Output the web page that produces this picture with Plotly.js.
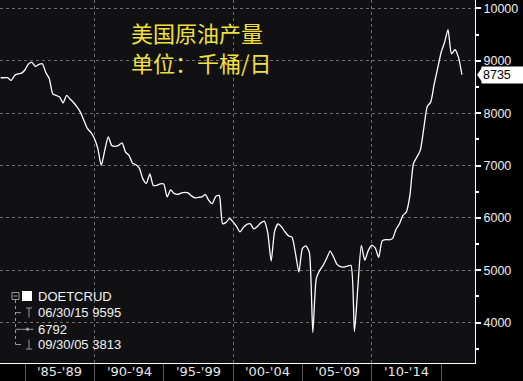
<!DOCTYPE html>
<html><head><meta charset="utf-8">
<script src="https://cdn.plot.ly/plotly-3.0.1.min.js"></script>
<style>html,body{margin:0;padding:0;background:#000;}#chart{width:523px;height:381px;}</style>
</head><body><div id="chart"></div>
<script>
// ---- data (quarterly, thousand barrels per day) ----
const startYear = 1983;
const quarterEnds = ['03-31', '06-30', '09-30', '12-31'];
const production = [
  8676, 8676, 8676, 8624,
  8720, 8748, 8763, 8828,
  8940, 8968, 8891, 8929,
  8943, 8777, 8662, 8367,
  8338, 8309, 8195, 8338,
  8271, 8204, 8118, 8014,
  7861, 7708, 7632, 7517,
  7327, 7002, 7289, 7546,
  7384, 7365, 7384, 7432,
  7256, 7193, 7046, 7016,
  6945, 6745, 6659, 6840,
  6621, 6621, 6649, 6649,
  6401, 6535, 6468, 6449,
  6474, 6487, 6478, 6420,
  6382, 6392, 6401, 6443,
  6335, 6271, 6411, 6430,
  5890, 5915, 5991, 5924,
  5838, 5733, 5819, 5876,
  5886, 5790, 5838, 5905,
  5940, 5724, 5176, 5753,
  5886, 5829, 5733, 5657,
  5634, 5323, 4967, 5419,
  5466, 5342, 3813, 4846,
  4999, 5094, 5228, 5367,
  5253, 5113, 5069, 5062,
  5081, 5094, 3830, 4700,
  5476, 5190, 5381, 5476,
  5428, 5247, 5562, 5586,
  5581, 5604, 5781, 5890,
  6048, 6115, 6430, 7035,
  7161, 7289, 7708, 8128,
  8210, 8548, 8853, 9158,
  9349, 9595, 9134, 9210,
  9069, 8735
];
const dates = production.map((v, i) => (startYear + Math.floor(i / 4)) + '-' + quarterEnds[i % 4]);

const periodStarts = [1985, 1990, 1995, 2000, 2005, 2010];
const periodLabels = ["'85-'89", "'90-'94", "'95-'99", "'00-'04", "'05-'09", "'10-'14"];
const dividerYears = [1985, 1995, 2005, 2015];
const gridYears = [1990, 2000, 2010];
const yTicks = [4000, 5000, 6000, 7000, 8000, 9000, 10000];
const titleLines = ['美国原油产量', '单位：千桶/日'];
const seriesName = 'DOETCRUD';
const highDate = '06/30/15', highValue = 9595;
const avgValue = 6792;
const lowDate = '09/30/05', lowValue = 3813;

// ---- layout helpers ----
const PW = 475, PH = 363;
const YMIN = 3230, YMAX = 10160;
const px = x => x / PW;
const py = y => (PH - y) / PH;
const unitsPerPx = (YMAX - YMIN) / PH;
const lastValue = production[production.length - 1];

const trace = {
  x: dates, y: production, type: 'scatter', mode: 'lines',
  line: {color: '#ffffff', width: 1.3, shape: 'spline', smoothing: 0.6},
  hoverinfo: 'skip', showlegend: false
};

const annotations = [];
periodStarts.forEach((s, i) => {
  annotations.push({
    x: (s + 2) + '-07-01', xref: 'x', y: py(372), yref: 'paper',
    yanchor: 'middle', xanchor: 'center', showarrow: false, text: periodLabels[i],
    font: {family: 'DejaVu Sans', size: 13, color: '#e6e6e6'}
  });
});
const titleY = [32, 62];
titleLines.forEach((t, i) => {
  annotations.push({
    x: px(129), xref: 'paper', y: py(titleY[i]), yref: 'paper', xanchor: 'left', yanchor: 'middle',
    showarrow: false, text: t, font: {family: 'Noto Sans CJK SC', size: 22, color: '#f0e040'}
  });
});
const legendRows = [
  [296, seriesName],
  [312.7, highDate + ' ' + highValue],
  [329.3, String(avgValue)],
  [344.5, lowDate + ' ' + lowValue]
];
legendRows.forEach(r => {
  annotations.push({
    x: px(35.5), xref: 'paper', y: py(r[0]), yref: 'paper', xanchor: 'left', yanchor: 'middle',
    showarrow: false, text: r[1], font: {family: 'Liberation Sans', size: 13, color: '#f2f2f2'}
  });
});
annotations.push({
  x: px(481), xref: 'paper', y: lastValue, yref: 'y', xanchor: 'left', yanchor: 'middle',
  text: String(lastValue), showarrow: false,
  bgcolor: '#ffffff', borderpad: 1, width: 44, align: 'left',
  font: {family: 'Liberation Sans', size: 12.5, color: '#000000'}
});

const gc = '#9a9a9a';
const shapes = [
  // last value pointer
  {type: 'path', xref: 'paper', yref: 'y',
   path: 'M ' + px(477) + ' ' + lastValue + ' L ' + px(482) + ' ' + (lastValue + 7 * unitsPerPx) +
         ' L ' + px(482) + ' ' + (lastValue - 7 * unitsPerPx) + ' Z',
   fillcolor: '#ffffff', line: {width: 0}},
  // tree connector
  {type: 'line', xref: 'paper', yref: 'paper', x0: px(15.5), x1: px(15.5), y0: py(300), y1: py(344.5), line: {color: gc, width: 1, dash: 'dot'}},
  {type: 'line', xref: 'paper', yref: 'paper', x0: px(15.5), x1: px(21), y0: py(312.7), y1: py(312.7), line: {color: gc, width: 1}},
  {type: 'line', xref: 'paper', yref: 'paper', x0: px(15.5), x1: px(21), y0: py(329.3), y1: py(329.3), line: {color: gc, width: 1}},
  {type: 'line', xref: 'paper', yref: 'paper', x0: px(15.5), x1: px(21), y0: py(344.5), y1: py(344.5), line: {color: gc, width: 1}},
  // collapse box
  {type: 'rect', xref: 'paper', yref: 'paper', x0: px(12), x1: px(19), y0: py(292.5), y1: py(299.5), line: {color: gc, width: 1}},
  {type: 'line', xref: 'paper', yref: 'paper', x0: px(13.5), x1: px(17.5), y0: py(296), y1: py(296), line: {color: gc, width: 1}},
  // series swatch
  {type: 'rect', xref: 'paper', yref: 'paper', x0: px(22), x1: px(32), y0: py(291), y1: py(301), fillcolor: '#ffffff', line: {width: 0}},
  // high marker
  {type: 'line', xref: 'paper', yref: 'paper', x0: px(29), x1: px(29), y0: py(308), y1: py(317.5), line: {color: gc, width: 1}},
  {type: 'line', xref: 'paper', yref: 'paper', x0: px(26), x1: px(32), y0: py(308), y1: py(308), line: {color: gc, width: 1}},
  // average marker
  {type: 'line', xref: 'paper', yref: 'paper', x0: px(21.5), x1: px(33.5), y0: py(329.3), y1: py(329.3), line: {color: gc, width: 1}},
  {type: 'circle', xref: 'paper', yref: 'paper', x0: px(25.8), x1: px(29.2), y0: py(327.6), y1: py(331), fillcolor: gc, line: {width: 0}},
  // low marker
  {type: 'line', xref: 'paper', yref: 'paper', x0: px(29), x1: px(29), y0: py(339.5), y1: py(349), line: {color: gc, width: 1}},
  {type: 'line', xref: 'paper', yref: 'paper', x0: px(26), x1: px(32), y0: py(349), y1: py(349), line: {color: gc, width: 1}}
];

const layout = {
  width: 523, height: 381,
  margin: {l: 0, r: 48, t: 0, b: 18, pad: 0},
  paper_bgcolor: '#000000', plot_bgcolor: '#111113',
  showlegend: false,
  xaxis: {
    type: 'date', range: ['1983-03-13', '2017-06-10'],
    tickmode: 'array', tickvals: gridYears.map(y => y + '-01-01'),
    showticklabels: false, ticks: 'outside', ticklen: 18, tickcolor: '#5a5a5a', tickwidth: 1,
    showgrid: true, gridcolor: '#6e6e6e', griddash: '3px,3px', gridwidth: 1,
    showline: true, linecolor: '#ffffff', linewidth: 1, zeroline: false,
    minor: {tickmode: 'array', tickvals: dividerYears.map(y => y + '-01-01'), ticks: 'outside', ticklen: 18, tickcolor: '#5a5a5a', tickwidth: 1, showgrid: false},
    fixedrange: true
  },
  yaxis: {
    side: 'right', range: [YMIN, YMAX],
    tickmode: 'array', tickvals: yTicks, tickformat: 'd',
    ticks: 'outside', ticklen: 5, tickwidth: 2, tickcolor: '#ffffff',
    showline: true, linecolor: '#ffffff', linewidth: 1,
    showgrid: true, gridcolor: '#6e6e6e', griddash: '3px,3px', gridwidth: 1, zeroline: false,
    tickfont: {family: 'Liberation Sans', size: 12.5, color: '#f0f0f0'},
    minor: {dtick: 500, ticks: 'outside', ticklen: 3, tickcolor: '#ffffff', showgrid: false},
    fixedrange: true
  },
  annotations: annotations,
  shapes: shapes
};

Plotly.newPlot('chart', [trace], layout, {displayModeBar: false, staticPlot: true});
</script>
</body></html>
